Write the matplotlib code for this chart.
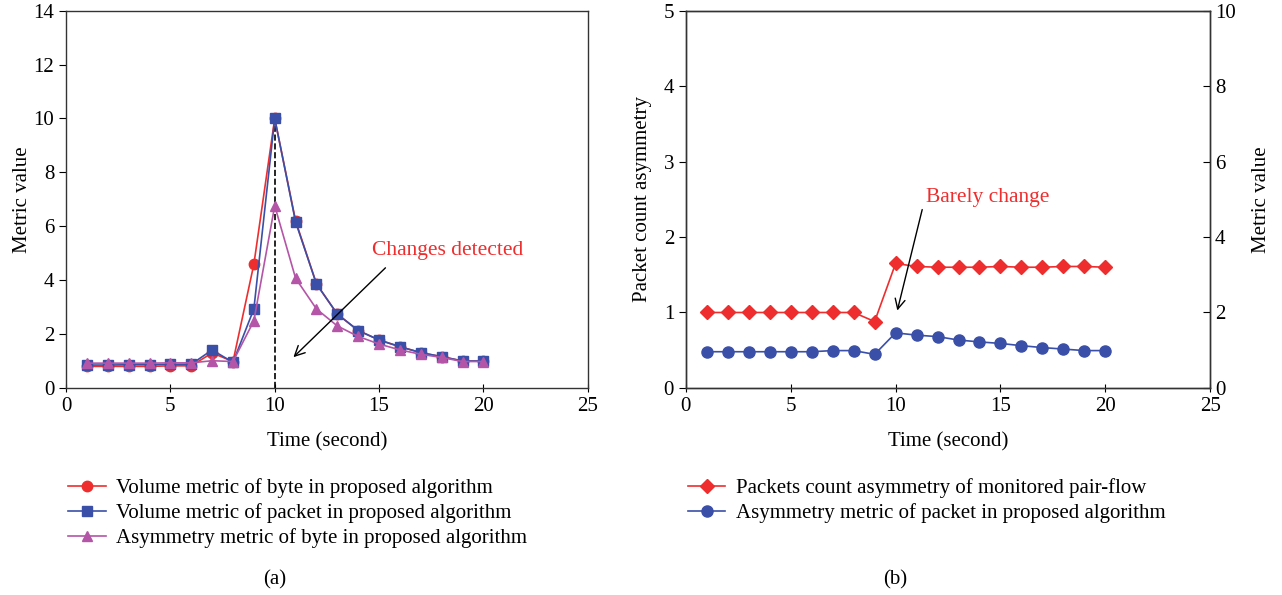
import matplotlib
matplotlib.use('Agg')
import matplotlib.pyplot as plt
import numpy as np

plt.rcParams['font.family'] = ['Liberation Serif', 'DejaVu Serif']

# time axis
t = np.arange(1, 21)

# (a) left panel
vol_byte = [0.80, 0.80, 0.80, 0.80, 0.82, 0.82, 1.30, 0.98, 4.59, 10.0,
            6.20, 3.86, 2.74, 2.13, 1.78, 1.53, 1.31, 1.16, 1.00, 1.00]
vol_packet = [0.85, 0.85, 0.86, 0.86, 0.88, 0.88, 1.41, 0.95, 2.93, 10.0,
              6.16, 3.86, 2.74, 2.13, 1.78, 1.53, 1.31, 1.16, 1.00, 1.00]
asym_byte = [0.92, 0.92, 0.92, 0.92, 0.93, 0.93, 1.01, 0.98, 2.49, 6.76,
             4.07, 2.93, 2.30, 1.91, 1.63, 1.41, 1.25, 1.13, 0.98, 0.98]

# (b) right panel
pkt_count_asym = [1.00, 1.00, 1.00, 1.00, 1.00, 1.00, 1.00, 1.00, 0.88, 1.65,
                  1.61, 1.60, 1.60, 1.60, 1.61, 1.60, 1.60, 1.61, 1.61, 1.60]
asym_packet = [0.96, 0.96, 0.96, 0.96, 0.96, 0.96, 0.99, 0.99, 0.89, 1.46,
               1.40, 1.36, 1.27, 1.22, 1.18, 1.12, 1.07, 1.03, 0.99, 0.99]

red = '#ee2e2e'
blue = '#3a4fa8'
magenta = '#b455a8'
fs = 15

fig = plt.figure(figsize=(12.82, 5.95), dpi=100)
ax1 = fig.add_axes([0.0515, 0.348, 0.407, 0.634])
ax2 = fig.add_axes([0.535, 0.348, 0.409, 0.634])
ax3 = ax2.twinx()

# left panel
l1, = ax1.plot(t, vol_byte, '-o', color=red, lw=1.2, ms=7.5, label='Volume metric of byte in proposed algorithm')
l2, = ax1.plot(t, vol_packet, '-s', color=blue, lw=1.2, ms=7.5, label='Volume metric of packet in proposed algorithm')
l3, = ax1.plot(t, asym_byte, '-^', color=magenta, lw=1.2, ms=7.5, label='Asymmetry metric of byte in proposed algorithm')
ax1.plot([10, 10], [0, 10], '--', color='k', lw=1.2, zorder=1)
ax1.annotate('', xy=(10.8, 1.07), xytext=(15.4, 4.53),
             arrowprops=dict(arrowstyle='->', color='k', lw=1.0, mutation_scale=18))
ax1.text(18.3, 5.1, 'Changes detected', color=red, fontsize=fs + 0.5, ha='center', va='center')
ax1.set_xlim(0, 25)
ax1.set_ylim(0, 14)
ax1.set_xticks(np.arange(0, 26, 5))
ax1.set_yticks(np.arange(0, 15, 2))
ax1.set_xlabel('Time (second)', fontsize=fs, labelpad=12)
ax1.set_ylabel('Metric value', fontsize=fs, labelpad=1)
ax1.tick_params(axis='x', direction='inout', labelsize=fs, length=6)
ax1.tick_params(axis='y', direction='out', labelsize=fs, length=5)
ax1.legend(handles=[l1, l2, l3], loc='upper left', bbox_to_anchor=(-0.012, -0.2175),
           frameon=False, fontsize=fs, handlelength=1.8, handletextpad=0.5,
           labelspacing=0.25, borderaxespad=0)
ax1.text(0.4, -0.508, '(a)', transform=ax1.transAxes, fontsize=fs, ha='center', va='center')

# right panel
r1, = ax2.plot(t, pkt_count_asym, '-D', color=red, lw=1.2, ms=7, label='Packets count asymmetry of monitored pair-flow')
r2, = ax3.plot(t, asym_packet, '-o', color=blue, lw=1.2, ms=8, label='Asymmetry metric of packet in proposed algorithm')
ax2.annotate('', xy=(10.05, 0.99), xytext=(11.3, 2.4),
             arrowprops=dict(arrowstyle='->', color='k', lw=1.0, mutation_scale=18))
ax2.text(14.4, 2.53, 'Barely change', color=red, fontsize=fs + 0.5, ha='center', va='center')
ax2.set_xlim(0, 25)
ax2.set_ylim(0, 5)
ax3.set_ylim(0, 10)
ax2.set_xticks(np.arange(0, 26, 5))
ax2.set_yticks(np.arange(0, 6, 1))
ax3.set_yticks(np.arange(0, 11, 2))
ax2.set_xlabel('Time (second)', fontsize=fs, labelpad=12)
ax2.set_ylabel('Packet count asymmetry', fontsize=fs, labelpad=8)
ax3.set_ylabel('Metric value', fontsize=fs, labelpad=12)
ax2.tick_params(axis='x', direction='inout', labelsize=fs, length=6)
ax2.tick_params(axis='y', direction='out', labelsize=fs, length=5)
ax3.tick_params(axis='y', direction='in', labelsize=fs, length=5)
ax2.legend(handles=[r1, r2], loc='upper left', bbox_to_anchor=(-0.012, -0.2175),
           frameon=False, fontsize=fs, handlelength=1.8, handletextpad=0.5,
           labelspacing=0.25, borderaxespad=0)
ax2.text(0.4, -0.508, '(b)', transform=ax2.transAxes, fontsize=fs, ha='center', va='center')

for a in (ax1, ax2, ax3):
    for s in a.spines.values():
        s.set_color('#333333')
        s.set_linewidth(1.0)

fig.savefig('out.png', dpi=100)
